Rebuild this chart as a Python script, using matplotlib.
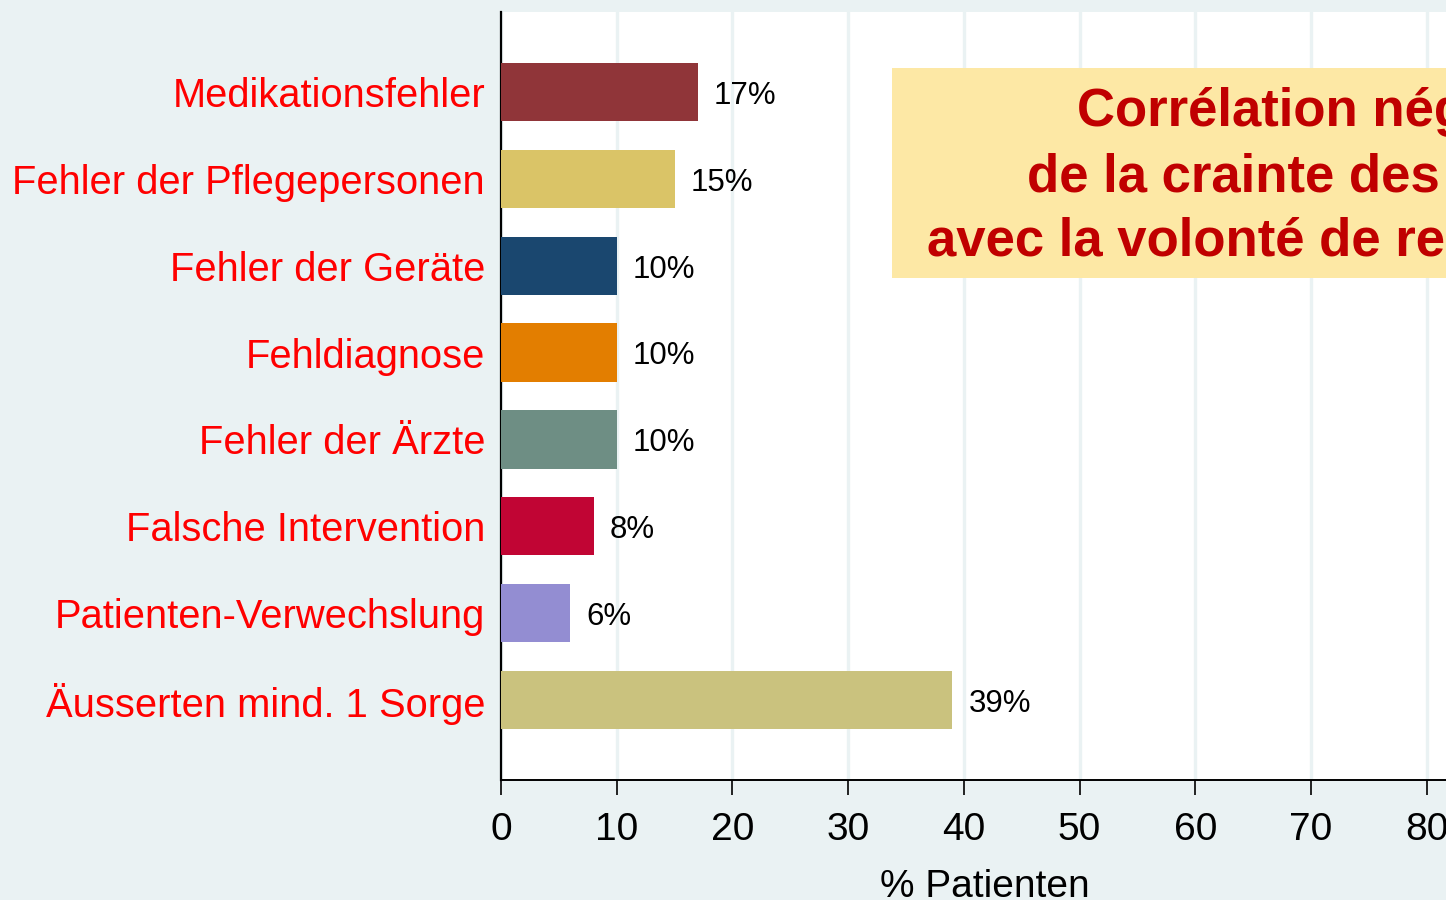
import matplotlib.pyplot as plt
from matplotlib.patches import Rectangle

categories = ["Medikationsfehler", "Fehler der Pflegepersonen", "Fehler der Geräte",
              "Fehldiagnose", "Fehler der Ärzte", "Falsche Intervention",
              "Patienten-Verwechslung", "Äusserten mind. 1 Sorge"]
values = [17, 15, 10, 10, 10, 8, 6, 39]
colors = ["#903539", "#DAC467", "#1A476F", "#E37E00", "#6E8E84", "#C10534",
          "#938DD2", "#CAC27E"]
xticks = [0, 10, 20, 30, 40, 50, 60, 70, 80]
box_lines = ["Corrélation négative", "de la crainte des erreurs",
             "avec la volonté de recommander"]

bg = "#EAF2F3"
W, H = 1446, 900
XMAX = 83.6
fig = plt.figure(figsize=(W / 100, H / 100), dpi=100, facecolor=bg)
# axes run slightly past the right edge, as in the cropped slide
ax = fig.add_axes([501 / W, 120 / H, XMAX * 11.57 / W, 768 / H], facecolor="white")

ypos = list(range(len(categories)))
ax.barh(ypos, values, height=0.67, color=colors, zorder=3)
for y, v in zip(ypos, values):
    ax.text(v + 1.4, y + 0.045, f"{v}%", va="center", ha="left", fontsize=22.5,
            family="Liberation Sans", color="black", zorder=4)

ax.set_ylim(7.92, -0.92)
ax.set_xlim(0, XMAX)
ax.set_yticks(ypos)
ax.set_yticklabels(categories, fontsize=28.7, color="#FF0000", family="Liberation Sans")
ax.tick_params(axis="y", length=0, pad=11.5)
ax.set_xticks(xticks)
ax.set_xticklabels([str(t) for t in xticks], fontsize=28, family="Liberation Sans")
ax.tick_params(axis="x", length=11, width=1.2, pad=12)
ax.set_xlabel("% Patienten", fontsize=28, family="Liberation Sans", labelpad=15)
ax.xaxis.grid(True, color=bg, linewidth=2.4, zorder=0)
ax.set_axisbelow(True)
for s in ["top", "right"]:
    ax.spines[s].set_visible(False)
ax.spines["left"].set_linewidth(1.6)
ax.spines["bottom"].set_linewidth(1.4)

# yellow annotation box (figure pixel coordinates)
fig.patches.append(Rectangle((892 / W, 1 - 278 / H), 700 / W, 210 / H,
                             transform=fig.transFigure, facecolor="#FDE8A5",
                             edgecolor="none", zorder=5))
for (x0, yc), line in zip([(1077, 112), (1027, 177), (927, 241)], box_lines):
    fig.text(x0 / W, 1 - yc / H, line, ha="left", va="center", fontsize=38,
             fontweight="bold", family="Liberation Sans", color="#C00000", zorder=6)

fig.savefig("out.png", dpi=100, facecolor=bg)
